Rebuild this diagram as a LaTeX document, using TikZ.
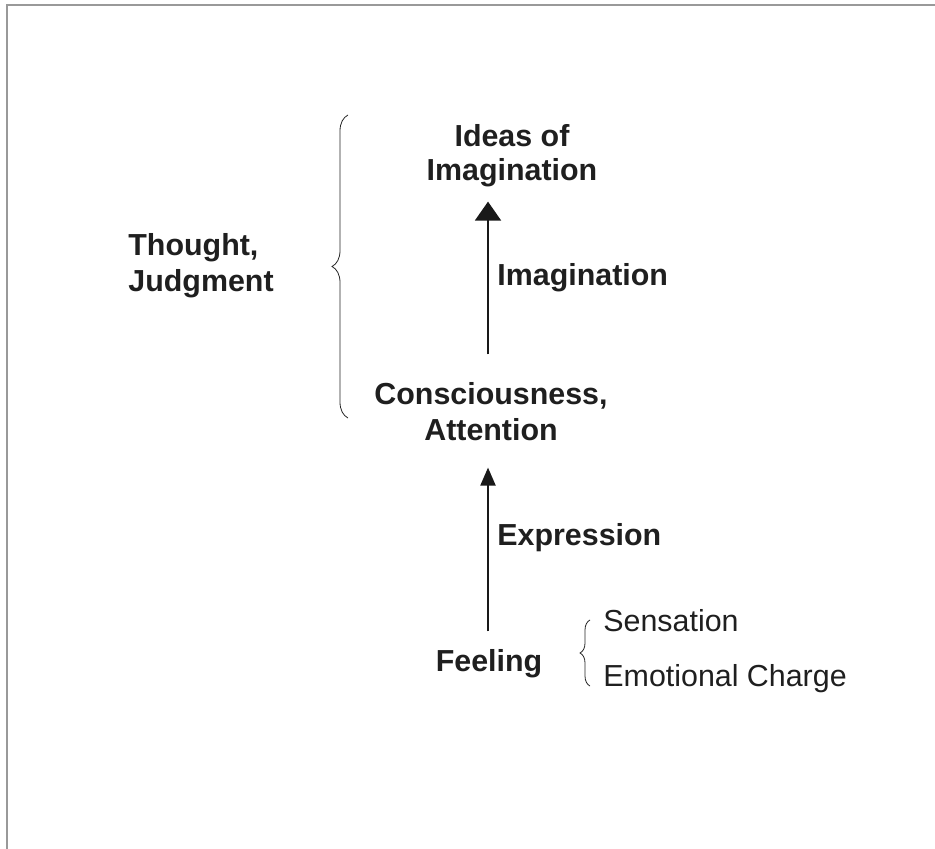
\documentclass[tikz,border=0pt]{standalone}
\usepackage{fontspec}
\setmainfont{Liberation Sans}
\usetikzlibrary{arrows.meta,decorations.pathreplacing}

\begin{document}
\begin{tikzpicture}[x=0.5pt, y=-0.5pt,
    every node/.style={text=black!88, inner sep=0pt,
        font=\fontsize{15.2}{18}\selectfont},
    stage/.style={align=center, font=\fontsize{15.2}{18}\selectfont\bfseries},
    side/.style={anchor=west, font=\fontsize{15.2}{18}\selectfont\bfseries},
    part/.style={anchor=west},
    up/.style={line width=1pt, black!90},
    curly/.style={decorate, thin, black!85}]
    \useasboundingbox (0,0) rectangle (935,849);
    \draw[gray!80, line width=0.8pt] (7,849) -- (7,5) -- (935,5);

    % the three stages
    \node[stage] (ideas) at (512,156) {Ideas of\\[-1pt]Imagination};
    \node[stage] (cons) at (491,412) {Consciousness,\\Attention};
    \node[stage] (feel) at (489,664) {Feeling};
    \coordinate (spine) at (488,0);

    \draw[up, -{Triangle[width=13pt,length=9.5pt]}, shorten <=14pt, shorten >=7pt]
        (cons.north -| spine) -- (ideas.south -| spine);
    \draw[up, -{Triangle[width=7.5pt,length=9pt]}, shorten <=9pt, shorten >=13pt]
        (feel.north -| spine) -- (cons.south -| spine);

    \node[side] (imag) at (497,278) {Imagination};
    \node[side] (expr) at (497,538) {Expression};

    % thought brace
    \node[side, align=left] (thought) at (128,266) {Thought,\\Judgment};
    \draw[curly, decoration={brace, amplitude=8pt}] (348,418) -- (348,115);

    % feeling brace
    \node[part] (sens) at (603,621) {Sensation};
    \node[part] (emot) at (603,679) {Emotional Charge};
    \draw[curly, decoration={brace, amplitude=5pt}] (590,686) -- (590,620);
\end{tikzpicture}
\end{document}
